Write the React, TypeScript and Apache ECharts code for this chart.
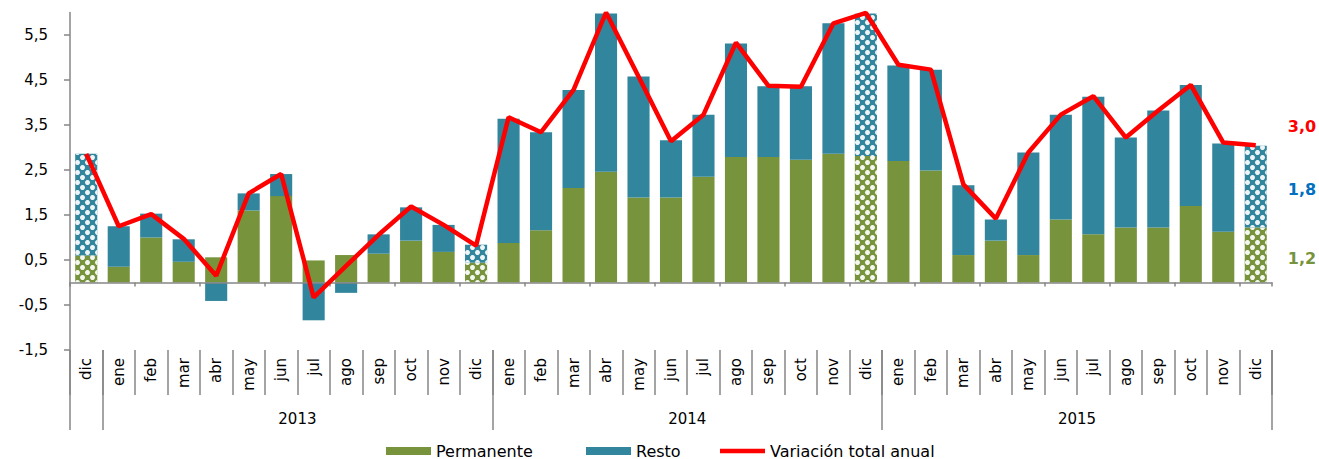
import React, { useEffect, useRef } from 'react';
import * as echarts from 'echarts';

const months = [
  'dic',
  'ene', 'feb', 'mar', 'abr', 'may', 'jun', 'jul', 'ago', 'sep', 'oct', 'nov', 'dic',
  'ene', 'feb', 'mar', 'abr', 'may', 'jun', 'jul', 'ago', 'sep', 'oct', 'nov', 'dic',
  'ene', 'feb', 'mar', 'abr', 'may', 'jun', 'jul', 'ago', 'sep', 'oct', 'nov', 'dic',
];

const permanente = [
  0.6,
  0.35, 1.0, 0.46, 0.56, 1.6, 1.92, 0.49, 0.61, 0.64, 0.93, 0.68, 0.44,
  0.88, 1.16, 2.1, 2.46, 1.89, 1.89, 2.35, 2.79, 2.79, 2.73, 2.86, 2.81,
  2.7, 2.49, 0.61, 0.93, 0.61, 1.4, 1.07, 1.22, 1.22, 1.7, 1.13, 1.22,
];

const resto = [
  2.26,
  0.9, 0.53, 0.5, -0.41, 0.38, 0.49, -0.84, -0.23, 0.43, 0.74, 0.6, 0.4,
  2.76, 2.18, 2.18, 3.52, 2.69, 1.27, 1.38, 2.52, 1.57, 1.63, 2.9, 3.17,
  2.12, 2.24, 1.55, 0.47, 2.28, 2.33, 3.06, 2.0, 2.6, 2.69, 1.96, 1.82,
];

const total = [
  2.86,
  1.25, 1.52, 0.97, 0.15, 1.98, 2.41, -0.33, 0.37, 1.06, 1.69, 1.28, 0.82,
  3.67, 3.34, 4.28, 6.0, 4.58, 3.14, 3.73, 5.33, 4.37, 4.35, 5.76, 5.99,
  4.84, 4.73, 2.18, 1.42, 2.89, 3.73, 4.14, 3.22, 3.82, 4.39, 3.11, 3.05,
];

const years = ['2013', '2014', '2015'];
const yearStarts = [1, 13, 25];
const patterned = [0, 12, 24, 36];
const yTicks = { min: -1.5, max: 6, interval: 1 };
const seriesNames = ['Permanente', 'Resto', 'Variación total anual'];
const endLabels = [
  { text: '3,0', color: '#FF0000' },
  { text: '1,8', color: '#0070C0' },
  { text: '1,2', color: '#77933C' },
];

const GREEN = '#77933C';
const BLUE = '#31859C';
const RED = '#FF0000';
const AXIS = '#868686';
const FONT = "'DejaVu Sans', sans-serif";

const decal = () => ({
  symbol: 'circle',
  symbolSize: 1,
  color: 'rgba(255,255,255,0.92)',
  dashArrayX: [[4.5, 4.5], [0, 4.5, 4.5, 0]],
  dashArrayY: [4.5, 0],
  rotation: 0,
});

const barData = (vals: number[]) =>
  vals.map((v, i) =>
    patterned.includes(i) ? { value: v, itemStyle: { decal: decal() } } : v,
  );

export default function App() {
  const ref = useRef<HTMLDivElement>(null);

  useEffect(() => {
    document.body.style.margin = '0';
    if (!ref.current) return;
    const chart = echarts.init(ref.current, undefined, { renderer: 'svg' });
    const yearCenters = yearStarts.map((s) => s + 6);
    const legendBase = {
      top: 443,
      padding: 0,
      itemWidth: 45,
      itemHeight: 8,
      textStyle: { fontSize: 16, color: '#000', fontFamily: FONT },
    };
    const option: any = {
      animation: false,
      textStyle: { fontFamily: FONT },
      grid: { left: 70, right: 47, top: 12.5, bottom: 109, containLabel: false },
      xAxis: [
        {
          type: 'category',
          data: months,
          axisLine: { onZero: true, lineStyle: { color: AXIS, width: 1.5 } },
          axisTick: { show: true, length: 4, lineStyle: { color: AXIS, width: 1.5 } },
          axisLabel: { show: false },
          z: 5,
        },
        {
          type: 'category',
          data: months,
          position: 'bottom',
          axisLine: { show: false, onZero: false },
          axisTick: { show: true, length: 45, lineStyle: { color: AXIS, width: 1.5 } },
          axisLabel: {
            rotate: 90,
            margin: 8,
            fontSize: 15,
            color: '#000',
            fontFamily: FONT,
            interval: 0,
          },
        },
        {
          type: 'value',
          min: 0,
          max: months.length,
          position: 'bottom',
          axisLine: { show: false, onZero: false },
          splitLine: { show: false },
          axisTick: {
            show: true,
            length: 80,
            customValues: [0, ...yearStarts, months.length],
            lineStyle: { color: AXIS, width: 1.5 },
          },
          axisLabel: {
            customValues: yearCenters,
            margin: 61,
            fontSize: 15,
            color: '#000',
            fontFamily: FONT,
            formatter: (v: number) => years[yearCenters.indexOf(v)] ?? '',
          },
        },
      ],
      yAxis: {
        type: 'value',
        min: yTicks.min,
        max: yTicks.max,
        interval: yTicks.interval,
        axisLine: { show: true, lineStyle: { color: AXIS, width: 1.5 } },
        axisTick: { show: true, length: 6, lineStyle: { color: AXIS, width: 1.5 } },
        splitLine: { show: false },
        axisLabel: {
          margin: 22,
          fontSize: 15,
          color: '#000',
          fontFamily: FONT,
          showMaxLabel: false,
          formatter: (v: number) => v.toFixed(1).replace('.', ','),
        },
      },
      legend: [
        { ...legendBase, left: 386, data: [{ name: seriesNames[0], icon: 'rect' }] },
        { ...legendBase, left: 586, data: [{ name: seriesNames[1], icon: 'rect' }] },
        {
          ...legendBase,
          left: 720,
          data: [{ name: seriesNames[2], icon: 'path://M0,0L45,0L45,4.5L0,4.5Z' }],
        },
      ],
      series: [
        {
          name: seriesNames[0],
          type: 'bar',
          stack: 'v',
          data: barData(permanente),
          barWidth: '68%',
          itemStyle: { color: GREEN },
        },
        {
          name: seriesNames[1],
          type: 'bar',
          stack: 'v',
          data: barData(resto),
          barWidth: '68%',
          itemStyle: { color: BLUE },
        },
        {
          name: seriesNames[2],
          type: 'line',
          data: total,
          symbol: 'none',
          lineStyle: { color: RED, width: 4.5 },
          itemStyle: { color: RED },
          z: 10,
        },
      ],
      graphic: endLabels.map((l, i) => ({
        type: 'text',
        x: 1302,
        y: [126, 189, 258][i],
        style: {
          text: l.text,
          fill: l.color,
          font: `bold 16px ${FONT}`,
          textAlign: 'center',
          textVerticalAlign: 'middle',
        },
      })),
    };
    chart.setOption(option);
    return () => chart.dispose();
  }, []);

  return <div ref={ref} style={{ width: 1319, height: 459 }} />;
}
